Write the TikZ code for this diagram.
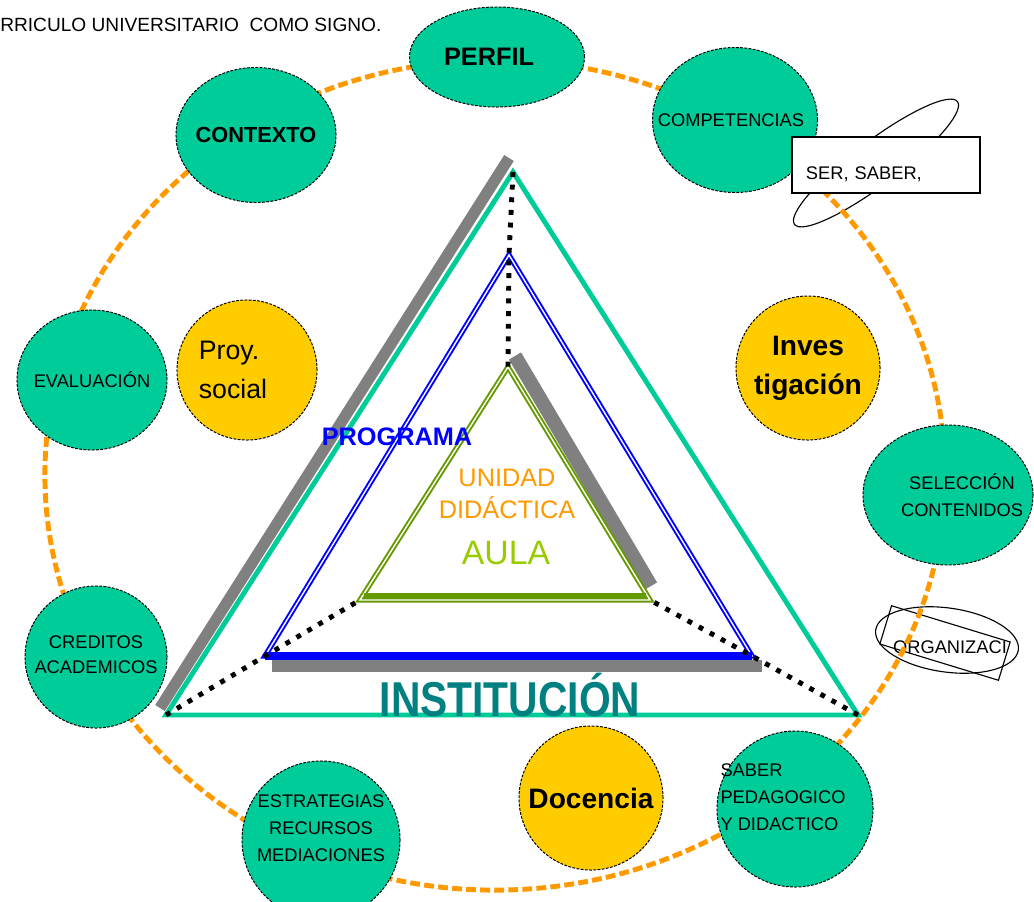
\documentclass[tikz,border=0pt]{standalone}
\usepackage{fontspec}
\usepackage{graphicx}
\setmainfont{Liberation Sans}
\usetikzlibrary{shapes}
\definecolor{verdeagua}{HTML}{00CC99}
\definecolor{amarillo}{HTML}{FFCC00}
\definecolor{naranja}{HTML}{FF9900}
\definecolor{gris}{HTML}{808080}
\definecolor{azul}{HTML}{0000FF}
\definecolor{oliva}{HTML}{669900}
\definecolor{lima}{HTML}{99CC00}
\definecolor{petroleo}{HTML}{008080}
\newcommand{\tam}[2]{\fontsize{#1}{#2}\selectfont}
\tikzstyle{tema}=[ellipse, draw, fill=verdeagua, line width=0.7pt, dash pattern=on 2pt off 1pt, inner sep=0pt]
\tikzstyle{eje}=[circle, draw, fill=amarillo, line width=0.7pt, dash pattern=on 2pt off 1pt, inner sep=0pt]
\tikzstyle{texto}=[align=center, font=\tam{13}{19}]
\tikzstyle{anillo}=[draw=naranja, line width=3.5pt, dash pattern=on 7pt off 3pt]
\tikzstyle{puntos}=[line width=3.5pt, dash pattern=on 3.5pt off 5.5pt]

\begin{document}
\begin{tikzpicture}[x=0.025cm, y=-0.025cm]
\useasboundingbox (0,0) rectangle (1034,902);

        \node[anchor=west, inner sep=0pt, font=\tam{13.6}{15}] (titulo) at (0,25)
            {RRICULO UNIVERSITARIO\ \ COMO SIGNO.};

        % marcos sin relleno, bajo el anillo
        \node[draw, line width=0.8pt,
            rotate=-17,
            minimum width=3.1cm,
            minimum height=1cm] (orgcaja) at (945,643) {};
        \node[draw, ellipse, line width=0.8pt,
            rotate=-8,
            minimum width=3.6cm,
            minimum height=1.6cm] (orgelipse) at (947,640) {};
        \node[font=\tam{13}{15}] (org) at (950,647) {ORGANIZACI};
        \node[draw, ellipse, line width=0.8pt,
            rotate=37,
            minimum width=5.1cm,
            minimum height=1.1cm] (serelipse) at (876,163) {};

        \draw[anillo] (495,475) ellipse [x radius=11.25cm, y radius=10.375cm];

        % triangulos
        \coordinate (extcima) at (513,172);
        \coordinate (extizq) at (166,715);
        \coordinate (extder) at (858,715);
        \coordinate (progcima) at (509,255);
        \coordinate (progizq) at (265,656);
        \coordinate (progder) at (752,656);
        \coordinate (aulacima) at (508,367);
        \coordinate (aulaizq) at (360,600);
        \coordinate (aulader) at (650,600);

        \draw[gris, line width=8pt] (509,158) -- (160,708);
        \draw[verdeagua, line width=3.5pt, line join=miter] (extcima) -- (extizq) -- (extder) -- cycle;

        \draw[gris, line width=8pt] (272,666) -- (762,666);
        \draw[azul, line width=1.4pt, double=white, double distance=1pt] (progcima) -- (progizq) -- (progder) -- cycle;
        \draw[azul, line width=5pt] (progizq) -- (progder);

        \draw[gris, line width=10pt] (515,356) -- (651,586);
        \draw[oliva, line width=1.4pt, double=white, double distance=1pt] (aulacima) -- (aulaizq) -- (aulader) -- cycle;
        \draw[oliva, line width=4.5pt] (364,596) -- (646,596);

        \draw[puntos] (extcima) -- (progcima) -- (aulacima);
        \draw[puntos] (extizq) -- (progizq) -- (aulaizq);
        \draw[puntos] (extder) -- (progder) -- (aulader);

        % nodos del anillo
        \node[tema,
            minimum width=4.375cm,
            minimum height=2.5cm,
            label={[texto, xshift=-0.2cm, font=\bfseries\tam{18}{20}]center:PERFIL}] (perfil) at (497,57) {};

        \node[tema,
            minimum width=4cm,
            minimum height=3.375cm,
            label={[texto, font=\bfseries\tam{15.5}{18}]center:CONTEXTO}] (contexto) at (256,135) {};

        \node[tema,
            minimum width=4.125cm,
            minimum height=3.625cm,
            label={[texto, xshift=-0.1cm]center:COMPETENCIAS}] (competencias) at (735,120) {};

        \node[draw, fill=white, line width=0.8pt,
            minimum width=4.7cm,
            minimum height=1.4cm,
            text width=4cm,
            text height=0.7cm,
            text depth=0pt,
            align=left,
            font=\tam{13}{15}] (sersaber) at (886,165) {SER, SABER,};

        \node[tema,
            minimum width=3.75cm,
            minimum height=3.5cm,
            label={[texto]center:EVALUACIÓN}] (evaluacion) at (92,380) {};

        \node[eje,
            minimum size=3.5cm,
            label={[align=left, xshift=-0.35cm, font=\tam{19}{28}]center:Proy.\\social}] (proy) at (247,370) {};

        \node[eje,
            minimum size=3.6cm,
            label={[texto, font=\bfseries\tam{20}{28}]center:Inves\\tigación}] (investigacion) at (808,368) {};

        \node[tema,
            minimum width=4.25cm,
            minimum height=3.5cm,
            label={[texto, xshift=0.35cm]center:SELECCIÓN\\CONTENIDOS}] (seleccion) at (948,495) {};

        \node[tema, circle,
            minimum size=3.55cm,
            label={[texto, yshift=0.05cm, font=\tam{13}{18}]center:CREDITOS\\ACADEMICOS}] (creditos) at (96,657) {};

        \node[tema, circle,
            minimum size=3.95cm,
            label={[texto, yshift=0.3cm]center:ESTRATEGIAS\\RECURSOS\\MEDIACIONES}] (estrategias) at (321,840) {};

        \node[eje,
            minimum size=3.6cm,
            label={[texto, font=\bfseries\tam{20}{24}]center:Docencia}] (docencia) at (591,798) {};

        \node[tema, circle,
            minimum size=3.9cm,
            label={[align=left, xshift=-0.3cm, yshift=0.3cm, font=\tam{13}{19}]center:SABER\\PEDAGOGICO\\Y DIDACTICO}] (saber) at (795,809) {};

        % rotulos de los niveles
        \node[font=\bfseries\tam{18}{20}, text=azul] (programa) at (397,437) {PROGRAMA};
        \node[font=\tam{18}{23}, text=naranja, align=center] (unidad) at (507,494) {UNIDAD\\DIDÁCTICA};
        \node[font=\tam{24}{26}, text=lima] (aula) at (506,553) {AULA};
        \node[font=\bfseries\tam{29}{30}, text=petroleo] (institucion) at (510,695) {\scalebox{1}[1.2]{INSTITUCIÓN}};

\end{tikzpicture}
\end{document}
